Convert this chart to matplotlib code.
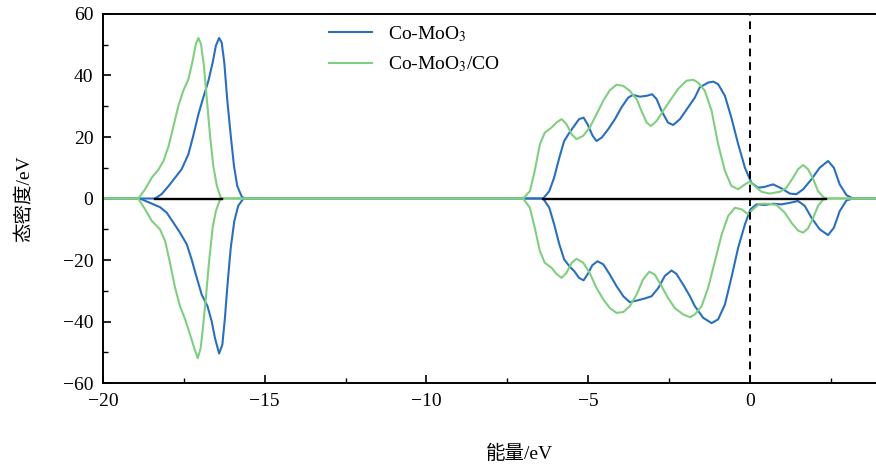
import matplotlib
matplotlib.use("Agg")
from matplotlib import pyplot as plt
from matplotlib.ticker import MultipleLocator

plt.rcParams['font.family'] = ['Liberation Serif', 'Noto Sans CJK SC']
plt.rcParams['mathtext.fontset'] = 'stix'

# values (energy in eV, DOS)
# Co-MoO3, spin up
blue_up_x = [-20, -18.39, -18.19, -17.97, -17.77, -17.57, -17.36, -17.21, -17.05, -16.90, -16.74,
             -16.61, -16.51, -16.41, -16.33, -16.25, -16.16, -16.05, -15.95, -15.85, -15.71, -15.61,
             -6.39, -6.20, -6.05, -5.89, -5.74, -5.58, -5.43, -5.28, -5.14, -5.02, -4.86, -4.74,
             -4.58, -4.38, -4.17, -3.97, -3.76, -3.61, -3.40, -3.19, -3.02, -2.88, -2.73, -2.53,
             -2.37, -2.16, -1.91, -1.70, -1.55, -1.29, -1.13, -0.98, -0.77, -0.57, -0.36, -0.15,
             0.05, 0.26, 0.46, 0.72, 0.98, 1.24, 1.44, 1.65, 1.91, 2.16, 2.42, 2.60, 2.78, 2.99,
             3.19, 4]
blue_up_y = [0, 0, 1.4, 4.1, 6.8, 9.5, 14.4, 20.4, 27.4, 32.8, 38.3,
             44.2, 49.7, 52.2, 50.7, 44.2, 32.3, 20.4, 10.6, 4.1, 0.6, 0,
             0, 2.4, 6.8, 13.3, 18.7, 21.4, 23.6, 25.8, 26.3, 24.2, 20.4, 18.7,
             19.8, 22.5, 25.8, 29.6, 32.8, 33.7, 33.1, 33.4, 33.9, 32.3, 28.5, 24.7,
             23.9, 25.8, 29.6, 32.8, 36.1, 37.7, 38.0, 37.2, 33.4, 26.3, 17.7, 10.0,
             5.1, 3.5, 3.8, 4.6, 3.3, 1.6, 1.4, 3.0, 6.3, 10.0, 12.2, 10.0, 4.6, 1.1,
             0, 0]

# Co-MoO3, spin down
blue_dn_x = [-20, -18.86, -18.55, -18.24, -18.03, -17.82, -17.62, -17.41, -17.26, -17.10, -16.95,
             -16.77, -16.64, -16.54, -16.41, -16.31, -16.23, -16.15, -16.05, -15.94, -15.82, -15.66,
             -6.39, -6.20, -6.05, -5.89, -5.74, -5.58, -5.43, -5.28, -5.14, -5.02, -4.87, -4.71,
             -4.53, -4.33, -4.12, -3.91, -3.71, -3.50, -3.25, -3.04, -2.83, -2.63, -2.42, -2.27,
             -2.06, -1.85, -1.70, -1.44, -1.18, -0.98, -0.77, -0.57, -0.36, -0.15, 0.02, 0.21,
             0.46, 0.72, 0.98, 1.24, 1.49, 1.70, 1.91, 2.16, 2.42, 2.60, 2.78, 2.99, 3.19, 4]
blue_dn_y = [0, 0, -1.4, -2.8, -4.6, -7.9, -11.1, -14.9, -19.8, -25.8, -31.2,
             -35.0, -39.9, -45.3, -50.4, -47.5, -38.8, -27.9, -16.0, -7.3, -2.4, 0,
             0, -3.0, -8.4, -14.9, -19.8, -22.0, -23.6, -25.8, -26.6, -24.7, -21.7, -20.4,
             -21.4, -24.7, -28.5, -31.8, -33.7, -33.2, -32.5, -31.8, -29.1, -25.2, -23.4, -24.5,
             -28.0, -31.8, -35.0, -38.8, -40.5, -39.3, -34.5, -25.8, -16.0, -8.4, -3.5, -1.9,
             -2.1, -1.7, -1.9, -1.4, -0.8, -2.4, -6.3, -10.0, -11.9, -9.5, -4.1, -0.6, 0, 0]

# Co-MoO3/CO, spin up
green_up_x = [-20, -18.91, -18.70, -18.49, -18.28, -18.13, -17.97, -17.82, -17.67, -17.52, -17.36,
              -17.24, -17.13, -17.05, -16.97, -16.88, -16.79, -16.69, -16.59, -16.48, -16.36, -16.33,
              -7.01, -6.80, -6.65, -6.49, -6.34, -6.13, -5.98, -5.82, -5.67, -5.51, -5.36, -5.15,
              -4.95, -4.74, -4.53, -4.33, -4.12, -3.91, -3.71, -3.50, -3.35, -3.19, -3.06, -2.88,
              -2.68, -2.47, -2.22, -1.96, -1.75, -1.60, -1.39, -1.18, -0.98, -0.77, -0.57, -0.36,
              -0.15, 0.0, 0.15, 0.36, 0.62, 0.93, 1.13, 1.34, 1.49, 1.65, 1.80, 1.96, 2.11, 2.27,
              2.37, 4]
green_up_y = [0, 0, 3.0, 6.8, 9.5, 12.2, 17.1, 23.6, 30.1, 35.0, 38.8,
              44.2, 50.2, 52.2, 50.2, 43.2, 32.3, 20.4, 10.6, 4.1, 0.3, 0,
              0, 2.4, 9.0, 17.7, 21.4, 23.1, 24.7, 25.8, 24.2, 20.9, 19.3, 20.4,
              23.1, 27.4, 31.8, 35.2, 37.0, 36.6, 35.0, 32.3, 28.5, 24.7, 23.6, 25.2,
              28.5, 31.8, 35.6, 38.3, 38.6, 37.7, 35.0, 28.5, 17.7, 9.0, 4.1, 3.0,
              4.6, 5.5, 4.1, 2.2, 1.6, 2.2, 3.5, 6.8, 9.5, 10.9, 9.5, 6.3, 2.4, 0.5,
              0, 0]

# Co-MoO3/CO, spin down
green_dn_x = [-20, -18.91, -18.70, -18.49, -18.24, -18.08, -17.93, -17.77, -17.62, -17.46, -17.31,
              -17.18, -17.07, -16.98, -16.90, -16.82, -16.72, -16.61, -16.51, -16.40, -16.33,
              -7.01, -6.80, -6.65, -6.49, -6.34, -6.13, -5.98, -5.82, -5.67, -5.51, -5.36, -5.15,
              -4.95, -4.74, -4.53, -4.33, -4.12, -3.91, -3.71, -3.50, -3.30, -3.11, -2.94, -2.73,
              -2.53, -2.32, -2.06, -1.85, -1.70, -1.49, -1.29, -1.08, -0.87, -0.67, -0.46, -0.26,
              -0.05, 0.10, 0.31, 0.57, 0.83, 1.08, 1.29, 1.49, 1.65, 1.80, 1.96, 2.11, 2.27, 2.37, 4]
green_dn_y = [0, 0, -3.5, -7.3, -10.0, -13.8, -20.9, -29.1, -35.0, -39.3, -44.2,
              -48.6, -51.9, -48.6, -41.0, -32.3, -20.4, -9.5, -4.1, -0.8, 0,
              0, -3.0, -9.5, -17.1, -20.9, -22.5, -24.5, -25.8, -24.2, -20.9, -19.6, -20.9,
              -24.2, -29.1, -32.8, -35.6, -37.2, -36.9, -35.0, -31.2, -26.3, -23.8, -24.7, -28.5,
              -32.3, -35.6, -37.7, -38.6, -37.7, -35.0, -29.1, -20.4, -11.7, -5.7, -3.0, -3.5,
              -5.1, -3.5, -1.7, -1.7, -2.1, -4.6, -7.9, -10.4, -11.1, -9.7, -6.3, -2.4, -0.3, 0, 0]

# black zero baselines
base_segments = [(-18.39, -16.33), (-6.39, 2.37)]

series_names = ['Co-MoO$_3$', 'Co-MoO$_3$/CO']
blue = '#2a6fbd'
green = '#80cf80'

fig = plt.figure(figsize=(8.76, 4.66), dpi=100)
ax = fig.add_axes([0.1176, 0.178, 0.886, 0.792])

ax.plot(blue_up_x, blue_up_y, color=blue, lw=1.5, label=series_names[0])
ax.plot(blue_dn_x, blue_dn_y, color=blue, lw=1.5)
ax.plot(green_up_x, green_up_y, color=green, lw=1.5, label=series_names[1])
ax.plot(green_dn_x, green_dn_y, color=green, lw=1.5)
for x0, x1 in base_segments:
    ax.plot([x0, x1], [0, 0], color='black', lw=1.7)

ax.axvline(0, color='black', lw=1.4, ls=(0, (4, 3)))

ax.set_xlim(-20, 4)
ax.set_ylim(-60, 60)
ax.xaxis.set_major_locator(MultipleLocator(5))
ax.xaxis.set_minor_locator(MultipleLocator(2.5))
ax.yaxis.set_major_locator(MultipleLocator(20))
ax.yaxis.set_minor_locator(MultipleLocator(10))
ax.tick_params(which='both', direction='in', labelsize=14)
ax.tick_params(axis='x', which='major', pad=7)
ax.tick_params(axis='y', which='major', pad=7)
ax.tick_params(which='major', length=6, width=1.2)
ax.tick_params(which='minor', length=3.5, width=1.0)
for sp in ax.spines.values():
    sp.set_linewidth(1.4)
ax.spines['right'].set_visible(False)

ax.set_xlabel('能量/eV', fontsize=14)
ax.set_ylabel('态密度/eV', fontsize=14)
ax.xaxis.set_label_coords(0.536, -0.168)
ax.yaxis.set_label_coords(-0.090, 0.5)

ax.legend(loc='upper left', bbox_to_anchor=(0.268, 1.02), frameon=False, fontsize=14,
          handlelength=2.25, labelspacing=0.55)

fig.savefig('out.png', dpi=100)
